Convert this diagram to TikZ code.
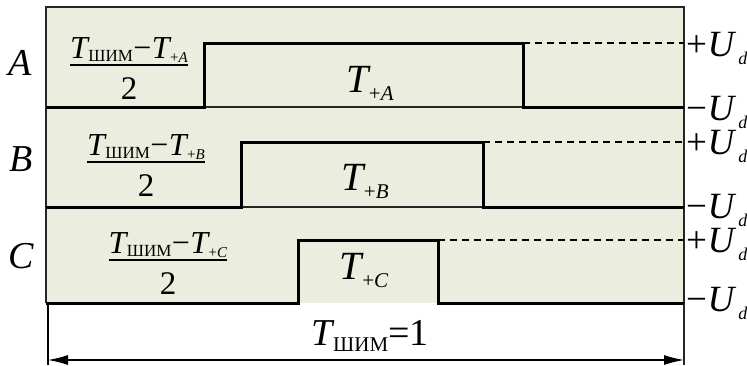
\documentclass[tikz,border=0pt]{standalone}
\usepackage{fontspec}
\setmainfont{Liberation Serif}
\usetikzlibrary{arrows.meta}
\definecolor{panelfill}{RGB}{235,237,222}
\newcommand{\fs}[1]{\fontsize{#1}{#1}\selectfont}
\newcommand{\lowr}[3]{\raisebox{-#1}{\fs{#2}#3}}
\newcommand{\numr}[1]{\fs{32}\textit{T}\kern-1.5pt\lowr{3pt}{17}{ШИМ}\kern0.5pt−\kern0.5pt\textit{T}\kern-1.5pt\lowr{4pt}{15}{+\textit{#1}}}
\newcommand{\pulse}[1]{\fs{40}\textit{T}\kern-2pt\lowr{8pt}{21}{+\textit{#1}}}
\newcommand{\volt}[1]{\fs{37}#1\kern0.5pt\textit{U}\kern2pt\lowr{8pt}{18}{\textit{d}}}
\begin{document}
\begin{tikzpicture}[x=1pt, y=-1pt,
    frame/.style={draw=black!85, line width=1.3pt},
    signal/.style={line width=3pt},
    plevel/.style={line width=1.2pt, dash pattern=on 7pt off 5pt},
    chan/.style={font=\fs{38}\itshape, inner sep=0pt, anchor=base},
    numer/.style={inner sep=0pt, anchor=south},
    denom/.style={inner sep=0pt, anchor=base, font=\fs{33}},
    plabel/.style={inner sep=0pt, anchor=base},
    vlabel/.style={inner sep=0pt, anchor=base west}]
    \useasboundingbox (0,0) rectangle (747,365);
    % Panels
    \fill[panelfill] (46,7) rectangle (684,303);
    \draw[frame] (46,303) -- (46,7) -- (684,7) -- (684,365);
    \draw[frame] (46,107) -- (684,107);
    \draw[frame] (46,207) -- (684,207);
    % Phase signals
    \draw[signal] (46,107) -- (204,107) -- (204,43) -- (523,43) -- (523,107) -- (684,107);
    \draw[signal] (46,207) -- (241,207) -- (241,142) -- (483,142) -- (483,207) -- (684,207);
    \draw[signal] (46,303) -- (298,303) -- (298,240) -- (438,240) -- (438,303) -- (684,303);
    % Levels +Ud
    \draw[plevel] (523,43) -- (684,43);
    \draw[plevel] (483,142) -- (684,142);
    \draw[plevel] (438,240) -- (684,240);
    % Phase names
    \node[chan] (labA) at (20,75) {A};
    \node[chan] (labB) at (21,171) {B};
    \node[chan] (labC) at (21,268) {C};
    % Pauses
    \node[numer] (numA) at (129,63) {\numr{A}};
    \node[denom] (denA) at (129,99) {2};
    \draw[line width=1.2pt] ([yshift=-2pt]numA.south west) -- ([yshift=-2pt]numA.south east);
    \node[numer] (numB) at (146,160) {\numr{B}};
    \node[denom] (denB) at (146,196) {2};
    \draw[line width=1.2pt] ([yshift=-2pt]numB.south west) -- ([yshift=-2pt]numB.south east);
    \node[numer] (numC) at (168,258) {\numr{C}};
    \node[denom] (denC) at (168,294) {2};
    \draw[line width=1.2pt] ([yshift=-2pt]numC.south west) -- ([yshift=-2pt]numC.south east);
    % Pulse widths
    \node[plabel] (pulA) at (370,92) {\pulse{A}};
    \node[plabel] (pulB) at (365,190) {\pulse{B}};
    \node[plabel] (pulC) at (364,279) {\pulse{C}};
    % Voltage levels
    \node[vlabel] (highA) at (686,56) {\volt{+}};
    \node[vlabel] (lowA) at (686,120) {\volt{−}};
    \node[vlabel] (highB) at (686,154) {\volt{+}};
    \node[vlabel] (lowB) at (686,218) {\volt{−}};
    \node[vlabel] (highC) at (686,252) {\volt{+}};
    \node[vlabel] (lowC) at (686,311) {\volt{−}};
    % PWM period
    \coordinate (perL) at (48,360);
    \coordinate (perR) at (684,360);
    \draw[line width=1.1pt] (48,303) -- (48,365);
    \draw[{Latex[length=20pt,width=10pt]}-{Latex[length=20pt,width=10pt]}, line width=1.2pt] (perL) -- (perR);
    \node[plabel] (period) at (370,345) {\fs{38}\textit{T}\kern-1.5pt\lowr{6pt}{21}{ШИМ}=1};
\end{tikzpicture}
\end{document}
